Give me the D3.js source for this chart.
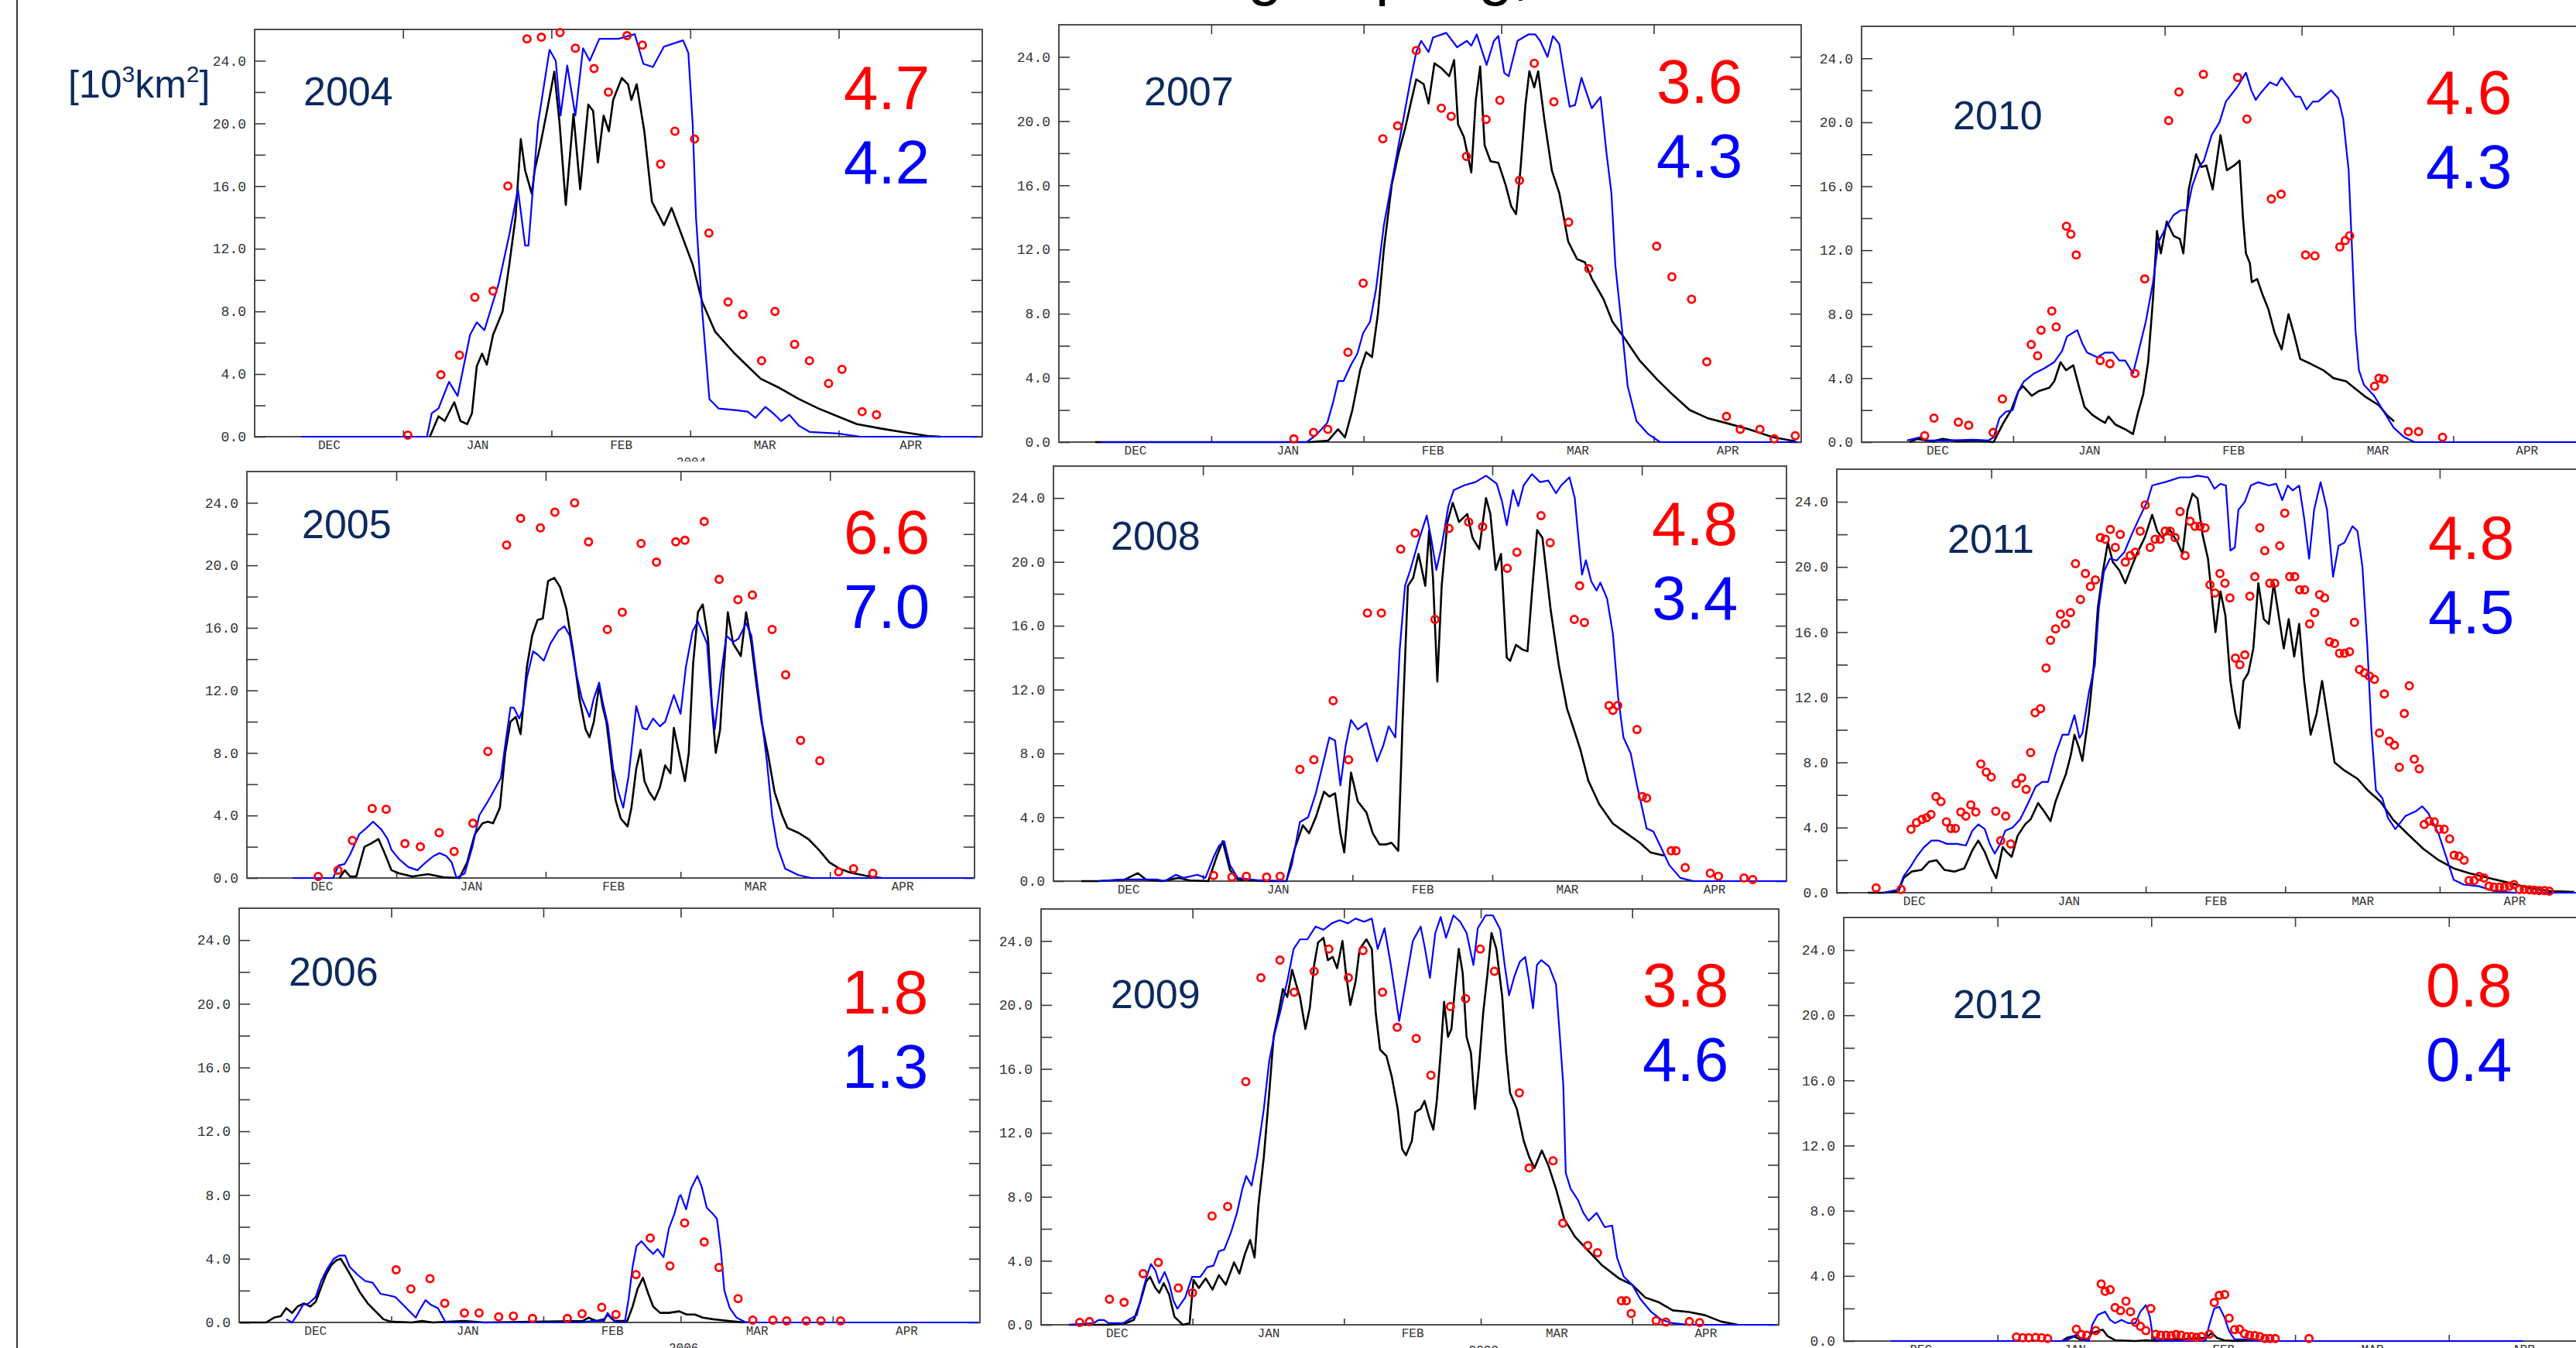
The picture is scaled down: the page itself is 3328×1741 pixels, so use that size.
<!DOCTYPE html>
<html>
<head>
<meta charset="utf-8">
<script src="https://cdn.jsdelivr.net/npm/d3@7"></script>
<style>
  body { margin: 0; background: #fff; }
  svg { display: block; }
</style>
</head>
<body>
<div id="chart"></div>
<script>
var svgWidth = 3328;
var svgHeight = 1741;

// panels in reading order (row by row)
var years = [2004, 2007, 2010, 2005, 2008, 2011, 2006, 2009, 2012];
var redScores = [4.7, 3.6, 4.6, 6.6, 4.8, 4.8, 1.8, 3.8, 0.8];
var blueScores = [4.2, 4.3, 4.3, 7.0, 3.4, 4.5, 1.3, 4.6, 0.4];

var monthLabels = ["DEC", "JAN", "FEB", "MAR", "APR"];
var yTickValues = [0, 2, 4, 6, 8, 10, 12, 14, 16, 18, 20, 22, 24];
var yLabelValues = [0, 4, 8, 12, 16, 20, 24];
var yMax = 26;

// series: [day since 1 Dec, value]
var black2004 = [[36.6,0],[38.4,1.3],[39.7,1.0],[41.7,2.2],[43,1.0],[44.4,0.8],[45.4,1.5],[46.4,4.5],[47.5,5.3],[48.5,4.6],[49.8,6.5],[51.8,8],[53.2,11],[54.5,14],[55.6,19],[56.5,17],[57.9,15.5],[58.5,17],[59.6,18.5],[61.2,21],[62.6,23.3],[63.7,20],[65,14.8],[66.6,20.6],[68,15.8],[69.7,21.2],[70.7,20.8],[71.7,17.5],[72.9,20.5],[74,19.5],[74.9,21.5],[76.7,22.9],[78,22.5],[78.7,21.5],[79.8,22.5],[81.4,19.5],[83,15],[85.5,13.5],[87.1,14.6],[89.3,12.8],[91.5,11],[93.5,8.6],[96.2,6.7],[100.3,5.3],[103,4.5],[105.7,3.7],[109.7,3.1],[113.7,2.4],[117.8,1.8],[121.8,1.3],[125.8,0.8],[131.2,0.5],[135.3,0.3],[140.6,0.05],[143.3,0]];
var blue2004 = [[9.7,0],[36,0],[37,1.5],[38.4,1.8],[40.6,3.5],[42.4,2.6],[45,6.5],[46.4,7.3],[48,6.8],[51,9.8],[53.2,12.9],[55,15.8],[56.5,12.2],[57.2,12.2],[59.2,20],[61.6,24.7],[62.9,24],[63.9,20.5],[65.3,23.7],[67,20.5],[68.6,24.8],[70,24],[72,25.4],[76,25.4],[79.4,25.7],[81.2,23.8],[83.2,23.6],[85.5,24.9],[89.5,25.3],[90.6,24.5],[91.5,20],[92.2,14],[93.5,8],[95,2.4],[96.9,1.8],[100.3,1.7],[103,1.6],[104.6,1.2],[106.7,1.9],[108.3,1.5],[110,1.0],[111.7,1.4],[113.7,0.7],[116,0.3],[121.8,0.2],[126.5,0],[151,0]];
var red2004 = [[32,0.1],[38.9,3.95],[42.8,5.2],[46,8.9],[49.8,9.3],[52.9,16],[56.9,25.4],[59.9,25.5],[63.8,25.8],[67,24.8],[70.9,23.5],[73.9,22],[77.8,25.6],[81,25],[84.8,17.4],[87.8,19.5],[91.9,19],[94.9,13],[98.9,8.6],[102,7.8],[105.9,4.85],[108.7,8],[112.8,5.9],[115.9,4.85],[119.9,3.4],[122.7,4.3],[126.9,1.6],[129.9,1.4]];

var black2007 = [[7.4,0],[51,0],[54.8,0.1],[56.8,0.8],[58.2,0.3],[59.7,2],[61.3,4.5],[62.5,5.6],[63.7,5.3],[64.9,8],[66.1,12],[67.7,16],[69.1,18],[70.4,19.5],[71.5,21],[72.7,22.6],[74.2,22.3],[75.2,21.1],[76.4,23.6],[77.8,23.3],[79.4,22.8],[80.4,23.8],[81.2,19.8],[82.4,19],[83.9,16.8],[84.8,21.3],[85.7,23.4],[86.6,18.5],[87.8,17.5],[89.4,17.4],[90.9,16],[92,14.7],[93,14.2],[93.9,17],[94.9,21],[95.7,23.1],[96.7,22.1],[97.5,23.1],[98.8,20],[100.3,16.9],[101.8,15.5],[103.6,12.5],[105.4,11.4],[107,11.2],[108.4,10.2],[110.8,8.9],[112.6,7.5],[115,6.5],[118.1,5.1],[121.7,3.9],[124.7,3],[128.3,2],[131.9,1.5],[135.6,1.2],[140.4,0.8],[145.3,0.3],[149.9,0.05]];
var blue2007 = [[8.6,0],[50.4,0],[52.2,0.4],[54.6,1.2],[55.8,2.5],[56.8,3.8],[57.9,3.8],[59.4,4.8],[60.7,5.5],[61.9,6.8],[63.3,7.5],[64.5,9.5],[66.1,13.5],[67.9,16.5],[69.7,19.5],[71.5,22.5],[72.7,24.3],[73.7,25],[75.2,24.3],[76.1,25.2],[78.8,25.5],[81,24.6],[83,25],[83.9,24.7],[85,25.4],[87,23.5],[88.5,25],[89.4,25.3],[90.6,23],[91.5,22.8],[93.3,25],[95.5,25.4],[96.9,25.4],[97.9,25],[99.4,24],[100.5,25.3],[101.8,24.8],[103,22.5],[103.9,20.9],[105,21],[106.3,22.7],[108.4,20.8],[110.2,21.5],[111.4,18],[112.4,15.5],[113.2,11],[114.4,7.5],[115.7,3.5],[117.5,1.3],[119.9,0.5],[122.3,0],[150.2,0]];
var red2007 = [[47.8,0.2],[51.8,0.6],[54.7,0.8],[58.8,5.6],[61.9,9.9],[65.9,18.9],[68.9,19.7],[72.7,24.4],[77.8,20.8],[79.8,20.3],[82.9,17.8],[86.9,20.1],[89.7,21.3],[93.7,16.3],[96.7,23.6],[100.7,21.2],[103.7,13.7],[107.8,10.8],[121.6,12.2],[124.7,10.3],[128.7,8.9],[131.8,5],[135.8,1.6],[138.6,0.8],[142.6,0.8],[145.5,0.2],[149.8,0.4]];

var black2010 = [[9.8,0],[11.4,0.2],[14.5,0.05],[16.6,0.2],[19.7,0.05],[23.8,0.1],[27,0],[29,1.2],[30.6,2],[32.1,3.2],[33,3.5],[34.8,2.9],[36.3,3.2],[38.4,3.4],[39.4,3.8],[40.7,5],[41.8,4.5],[43.3,4.8],[44.6,3.3],[45.6,2.2],[47.2,1.7],[48.7,1.4],[49.8,1.2],[50.5,1.6],[51.9,1.1],[53.9,0.8],[55.5,0.5],[56.5,1.8],[57.6,3],[58.6,5],[59.6,9],[60.4,13.2],[61.2,11.8],[62.4,13.8],[63.8,12.9],[65.1,12.7],[65.8,11.8],[66.9,15.8],[68.4,18],[69.5,17.2],[70.5,17.3],[71.8,15.8],[72.6,17.5],[73.4,19.2],[74.7,17],[76.2,17.3],[77.3,17.6],[78,14],[78.6,11.8],[79.4,11.2],[79.8,10],[80.9,10.2],[81.9,9.3],[83.2,8.3],[84.5,6.8],[85.9,5.8],[87.3,8],[88.4,6.8],[89.7,5.2],[91.8,4.9],[94.4,4.5],[96.5,4],[99.1,3.8],[101.1,3.3],[103.2,2.8],[105.8,2.3],[107.4,1.7],[108.9,1.3]];
var blue2010 = [[9.3,0.1],[11.9,0.3],[13.5,0.1],[17.6,0.1],[22.8,0.15],[25.9,0.1],[27,0.3],[28.2,1.5],[29.5,1.9],[30.9,2],[32.1,3.2],[33.2,3.8],[35.3,4.3],[37.3,4.6],[39.4,5],[41,5.7],[42,6.6],[44.1,7],[45.1,6.2],[46.1,5.6],[48.2,5.3],[49.8,5.6],[51.4,5.6],[52.7,5.1],[53.9,5.1],[55.5,4.3],[56.5,5.5],[58.1,7.5],[59.6,10],[60.7,12.5],[62.2,13.4],[63.8,14.2],[65.3,14.5],[66.6,14.5],[67.6,16],[69,17.2],[70,17.6],[71.6,19.2],[73.2,20],[74.5,21.3],[76.8,22.2],[78.6,23.1],[79.7,22],[80.6,21.4],[81.8,21.9],[83.5,22.5],[84.9,22.3],[85.9,22.8],[87.1,22.3],[88.7,21.6],[89.7,21.6],[91,20.8],[92.3,21.3],[93.4,21.3],[96,22],[97.5,21.5],[98.5,20.2],[99.6,17],[100.3,12],[101,7],[101.7,4.5],[102.7,3.6],[104.8,2.9],[106.8,1.9],[108.8,0.9],[111,0.3],[113.1,0],[151,0]];
var red2010 = [[12.9,0.4],[14.8,1.5],[19.8,1.25],[21.9,1.05],[26.9,0.6],[28.8,2.7],[34.7,6.1],[36,5.4],[36.7,7],[38.9,8.2],[39.8,7.2],[41.9,13.5],[42.8,13],[43.9,11.7],[48.8,5.1],[50.8,4.9],[55.9,4.3],[57.9,10.2],[62.8,20.1],[64.9,21.9],[69.9,23],[76.9,22.8],[78.8,20.2],[83.8,15.2],[85.8,15.5],[90.8,11.7],[92.7,11.65],[97.8,12.2],[98.9,12.6],[99.8,12.9],[104.9,3.5],[105.8,4],[106.8,3.95],[111.8,0.65],[113.9,0.65],[118.8,0.3]];

var black2005 = [[19.2,0],[20.3,0.5],[21.4,0.1],[22.7,0.1],[24.4,2],[25.7,2.2],[27.3,2.5],[28.7,1.5],[30,0.5],[31.6,0.3],[34.3,0.1],[37.6,0.25],[40.8,0.05],[44.1,0],[45.7,1],[47.3,2.8],[48.9,3.5],[50,3.6],[51.1,3.5],[52.5,4.5],[53.6,8],[54.7,10],[55.8,10.3],[56.8,9.2],[58.1,13.5],[59.2,15.5],[60.3,16.5],[61.4,16.6],[62.5,19],[63.8,19.2],[65,18.6],[66.3,17.2],[67.7,14.5],[69,11.5],[70.3,9.5],[71.1,9],[72,10],[73.1,12.3],[73.8,11],[74.6,10],[75.4,8],[76.5,5],[77.6,3.8],[79,3.3],[79.8,4.5],[80.8,7],[81.7,8.2],[82.5,6.2],[83.5,5.5],[84.6,5],[85.7,5.8],[86.8,7.2],[87.9,6.7],[88.6,9.6],[90,7.5],[90.9,6.2],[91.7,8],[92.6,13.7],[93.6,17],[94.6,17.5],[95.7,15.3],[96.5,11],[97.3,8],[98.2,9.5],[98.9,13],[99.8,17],[100.9,15],[102.5,14.2],[103.6,17],[104.7,15],[105.7,12.5],[106.8,10],[108.1,8],[109.5,5.5],[111.1,4],[112.2,3.2],[114.4,2.9],[116.5,2.5],[118.7,1.8],[120.9,1],[123,0.6],[125.2,0.35],[128.4,0.15],[131.7,0]];
var blue2005 = [[9.5,0],[17.9,0],[19,0.8],[20.3,0.9],[21.4,1.5],[23.3,2.8],[24.8,3.2],[26.2,3.6],[27.9,3.1],[29.2,2.5],[30,1.8],[31.6,1.2],[33.5,0.7],[35.4,0.5],[37.1,1],[38.7,1.4],[40,1.6],[41.4,1.4],[42.5,1],[43.5,0],[45.2,0.3],[46.8,2],[48.2,4],[50,4.9],[51.1,5.5],[52.7,6.4],[53.6,8.5],[54.7,10.9],[55.4,10.9],[56.5,10.2],[57.3,10.8],[58.1,12.8],[59.4,14.5],[60.3,14.3],[61.6,13.9],[63,15],[64.6,15.8],[65.9,16.1],[67,15.5],[68.4,13],[69.5,11.5],[71.1,10.3],[72,11.5],[73.1,12.5],[73.8,11.3],[74.9,9.8],[76,7],[77.1,5.5],[78.1,4.5],[79.2,6.5],[80.8,11],[82.1,9.6],[83,9.5],[84.3,10.2],[85.7,9.7],[86.8,10],[88.6,11.7],[90,10.5],[91.1,13.5],[92.5,15.8],[93.6,16.4],[95.5,15],[96.2,12],[97.1,9.5],[98.4,13],[99.5,15.5],[100.9,15.1],[102,15.3],[103.6,16.3],[104.7,15.5],[106.3,11.5],[107.9,7.5],[109,4],[110.1,2],[111.7,0.6],[114.4,0.2],[117.1,0],[150.6,0]];
var red2005 = [[14.8,0.1],[18.9,0.5],[21.9,2.4],[26,4.45],[28.9,4.4],[32.8,2.2],[36,2],[39.9,2.9],[43,1.7],[46.9,3.5],[50,8.1],[53.9,21.3],[56.8,23],[60.9,22.4],[63.9,23.4],[68,24],[70.9,21.5],[74.8,15.9],[77.9,17],[81.8,21.4],[85,20.2],[89,21.5],[90.9,21.6],[94.9,22.8],[98,19.1],[101.9,17.8],[104.9,18.1],[109,15.9],[111.8,13],[114.9,8.8],[118.9,7.5],[122.8,0.4],[125.9,0.6],[129.9,0.3]];

var black2008 = [[5.8,0],[9.2,0],[14.8,0.1],[17.5,0.5],[19.2,0.1],[22.6,0],[25.9,0.2],[28.2,0.05],[32.1,0],[33.8,1.5],[35.1,2.5],[36.6,0.7],[38.2,0.1],[43.8,0],[48.3,0],[50,2],[51.7,3.5],[53,3],[54.4,4],[56.1,5.6],[57.2,5.3],[58.4,5.5],[59.5,3],[60.3,1.8],[61.7,6.8],[63.1,5],[64.9,4.3],[66.2,3],[67.6,2.3],[69,2.3],[70.1,2.4],[71.5,1.9],[72.4,10],[73.5,18.5],[74.6,19],[75.7,20.5],[77.1,18.5],[77.9,22],[78.7,19],[79.6,12.5],[80.5,18.5],[81.7,22.5],[82.8,23.7],[84.1,22.5],[85.8,23],[86.9,21.5],[88.3,20.8],[89.7,24],[90.6,23],[91.7,19.5],[92.8,20.5],[94,14],[94.7,13.8],[95.9,14.8],[97.3,14.5],[98.3,14.4],[99.2,18],[100.3,22],[101.4,21.5],[103.1,17],[104.8,13.5],[106.5,10.8],[107.6,9.8],[109.3,8.2],[110.9,6.3],[113.2,4.8],[116,3.6],[118.8,3],[121.6,2.4],[123.8,1.8],[126.6,1.6]];
var blue2008 = [[9.2,0],[14.8,0.1],[21.4,0.1],[23.1,0],[25.4,0.4],[27,0.2],[29.8,0.4],[31.5,0.2],[33.2,1.5],[34.3,2.2],[35.4,2.5],[36.6,1],[38.2,0.2],[42.7,0.05],[48.3,0],[49.4,1],[51.1,3.7],[52.8,4],[54.4,5.5],[56.1,7.6],[57.2,9],[58.4,8.8],[59.5,6],[60.6,8.5],[61.7,10.1],[63.1,9.5],[64.9,9.9],[67.1,7.5],[68.4,8.5],[69.5,9.7],[70.9,9],[71.8,14.5],[72.9,18.5],[74,19.5],[75.7,21.3],[77.4,22.9],[78.3,21.5],[79.4,19.5],[80.5,21],[81.9,23.5],[83,24.5],[85.2,24.8],[87.5,25],[89.7,25.4],[91.9,24.9],[93,23.8],[94,22.3],[95.3,24.5],[96.4,23.5],[97.5,24.8],[99.2,25.5],[100.9,25],[102.6,25.1],[104.2,24.3],[105.3,24.8],[107,25.3],[108.1,24],[108.7,22],[109.6,19.2],[110.4,20.1],[111.5,18.8],[112.6,18.2],[113.4,18.7],[114.8,17.7],[116,15.5],[117.1,11.5],[118.2,9],[119.7,8],[121,6],[121.9,4.8],[123,3.3],[124.4,3.1],[126,2.1],[127.7,1],[130,0.2],[132.7,0],[152,0]];
var red2008 = [[33.2,0.35],[37,0.26],[40,0.3],[44.2,0.26],[47,0.3],[51.1,7],[54,7.6],[58,11.3],[61.2,7.6],[65.1,16.8],[68,16.8],[72,20.8],[75,21.8],[79.1,16.4],[82,22.1],[86.1,22.5],[89,22.2],[94.1,19.6],[96.1,20.6],[101.1,22.9],[103,21.2],[108,16.4],[109.1,18.5],[110.1,16.2],[115.2,11],[116,10.7],[117,11],[121,9.5],[122.1,5.3],[123,5.2],[128.1,1.9],[129.1,1.9],[131,0.85],[136.2,0.5],[137.9,0.3],[143.2,0.2],[145,0.1]];

var black2011 = [[6.3,0],[9.4,0],[12.4,0.1],[13.4,0.9],[15,1.3],[17,1.4],[18.5,1.9],[20,2],[21.6,1.4],[23.6,1.3],[25.6,1.5],[27.2,2.6],[28.4,3.2],[29.7,2.5],[31,1.5],[32,0.9],[33.3,2.8],[34.1,2.5],[35.1,2.2],[36.3,3.5],[37.8,4.2],[38.9,4.5],[40.4,5.5],[41.6,5],[42.9,4.4],[43.9,5.6],[45,6.5],[46,7.3],[47,8.5],[47.7,9.7],[48.5,9],[49.3,8.1],[50.6,11],[51.6,14],[52.4,17.5],[53.4,19.7],[54.4,21.5],[55.4,20.3],[56.7,19.8],[57.9,19],[58.9,19.8],[60.2,20.8],[61.8,21.8],[63.3,23.2],[64.3,22.2],[65.3,21.8],[66.8,22.3],[68.4,21.5],[69.4,20.8],[70.4,23.5],[71.4,24.5],[72.4,24.2],[73.4,22],[74.5,20.5],[75.5,17.5],[76,16],[77,18.5],[78,17],[79,13],[80,11],[80.8,10.1],[81.6,13],[82.6,13.5],[83.6,15],[84.6,19],[85.7,16.8],[86.7,16.5],[87.7,19],[88.7,17],[89.7,15],[90.7,16.8],[91.8,14.5],[92.8,16.5],[93.8,13],[95.1,9.7],[96.3,11],[97.4,13],[98.4,11],[99.9,8],[101.9,7.5],[104.5,7],[106.5,6.3],[109.1,5.6],[111.6,4.5],[114.6,3.6],[117.7,2.7],[120.8,2],[123.8,1.5],[126.9,1.2],[130.9,0.9],[135,0.6],[139,0.3],[143.1,0.1],[148,0.05]];
var blue2011 = [[9.4,0],[12.4,0.2],[13.4,1],[14.8,1.6],[16,2.2],[17.5,2.8],[19,3.2],[20.5,3.2],[22.1,3],[24.1,3],[25.9,2.9],[27.2,3.8],[28.4,4.2],[29.7,3.9],[30.7,3],[31.7,2.4],[32.8,3],[33.8,3.8],[35.3,4],[36.8,4.5],[38.4,5.5],[39.9,6.5],[41.2,6.8],[42.4,6.8],[43.9,8.5],[45.3,9.7],[46.5,9.7],[47.7,10.9],[48.7,9.5],[49.3,9.8],[50.6,12.3],[51.8,14],[52.6,17.5],[53.6,19.7],[54.8,20.5],[56.2,20.4],[57.7,20.9],[59.2,22],[60.7,23],[62.3,24],[63.3,25],[65.8,25.2],[68.9,25.5],[70.9,25.5],[72.4,25.6],[74.5,25.5],[75.8,24.8],[77,25.1],[78.1,25],[79,21],[79.9,21.2],[80.6,23.5],[81.9,24],[83.1,25],[84.6,25.2],[86.7,25],[88.2,25.1],[89.4,24.1],[90.5,25],[91.5,24.7],[92.8,25],[93.8,23],[94.8,20.5],[95.8,23.5],[97.1,25.2],[98.4,23.5],[99.6,19.4],[100.7,21.3],[101.9,21.5],[103.5,22.5],[104.5,22.2],[105.5,20],[106.5,15],[107.3,10],[108.2,6.3],[109.5,5.8],[110.6,4.6],[112.1,3.9],[114.1,4.7],[116.2,5],[117.5,5.3],[118.7,4.9],[120.8,3.6],[122.3,2.2],[123.8,0.8],[125.8,0.5],[128.9,0.4],[131.9,0.1],[136,0],[151,0]];
var red2011 = [[7.9,0.3],[12.9,0.2],[14.9,3.9],[16,4.3],[17.1,4.5],[18,4.6],[18.9,4.8],[19.9,5.9],[20.9,5.6],[22,4.35],[22.9,3.95],[23.8,3.95],[24.9,4.95],[25.9,4.7],[26.9,5.4],[27.9,4.95],[28.9,7.9],[30,7.4],[31,7.1],[31.9,5],[32.9,3.2],[33.9,4.7],[34.9,3],[36,6.7],[37.1,7.05],[38,6.35],[38.9,8.6],[39.8,11.05],[40.9,11.3],[42,13.8],[42.9,15.5],[43.9,16.2],[44.9,17.1],[45.9,16.5],[46.9,17.2],[47.9,20.2],[48.9,18],[49.9,19.6],[50.9,18.8],[51.9,19.2],[52.9,21.8],[53.9,21.7],[54.9,22.3],[55.9,21.2],[56.9,22],[57.9,20.3],[58.9,20.7],[59.9,20.9],[60.9,22.2],[61.9,23.8],[62.9,21.2],[63.9,21.7],[64.9,21.7],[65.9,22.2],[66.9,22.2],[67.9,21.8],[68.9,23.4],[69.9,20.7],[70.9,22.8],[71.9,22.5],[72.9,22.5],[73.9,22.4],[74.9,18.9],[75.9,18.4],[76.9,19.6],[77.9,19],[78.9,18.1],[80,14.4],[80.9,14],[81.9,14.6],[82.9,18.2],[83.9,19.4],[84.9,22.4],[85.9,21],[86.9,19],[87.9,19],[88.9,21.3],[89.9,23.3],[90.9,19.4],[91.9,19.4],[92.9,18.6],[93.9,18.6],[94.9,16.5],[95.9,17.2],[96.9,18.3],[97.9,18.1],[98.9,15.4],[99.9,15.3],[100.9,14.7],[101.9,14.7],[102.9,14.8],[103.9,16.6],[104.9,13.7],[105.9,13.5],[106.9,13.3],[107.9,13.1],[108.9,9.8],[109.9,12.2],[110.9,9.3],[111.9,9.05],[112.9,7.7],[113.9,11],[114.9,12.7],[115.9,8.2],[116.9,7.6],[117.9,4.2],[118.9,4.4],[119.9,4.35],[120.9,3.9],[121.9,3.9],[123,3.3],[123.9,2.3],[124.9,2.25],[125.9,2],[126.9,0.75],[127.9,0.75],[128.9,1],[129.9,0.9],[130.9,0.4],[131.9,0.35],[133,0.35],[134,0.35],[135,0.4],[135.9,0.5],[137,0.2],[138,0.2],[139,0.18],[140,0.16],[141,0.13],[142,0.13],[143,0.1]];

var black2006 = [[0.2,0],[5.5,0],[7.1,0.3],[8.5,0.4],[9.6,0.9],[10.8,0.6],[11.9,1],[13.2,1.2],[14.5,1],[15.6,1.3],[16.7,2.2],[17.7,3],[18.8,3.6],[19.8,3.9],[20.7,4],[21.7,3.5],[23,2.8],[24.6,1.9],[26.2,1.2],[27.8,0.7],[29.4,0.2],[30.9,0.05],[35.2,0],[37.3,0.1],[39.4,0],[45.8,0.1],[50,0],[70.1,0.1],[71.2,0.3],[72.8,0.1],[74.4,0.2],[75.1,0.5],[76.5,0.1],[79.1,0.1],[80.2,1],[81.2,2.1],[82.3,2.8],[83.4,1.8],[84.4,1],[85.8,0.6],[87.6,0.6],[89.7,0.7],[91.2,0.5],[92.9,0.5],[94.5,0.3],[96.6,0.2],[99.8,0.1],[103,0]];
var blue2006 = [[9.6,0.2],[10.8,0],[11.9,0.5],[13,1.1],[14.2,1.2],[15.6,1.6],[16.7,2.6],[18,3.4],[19.3,4],[20.4,4.2],[21.6,4.2],[22.5,3.5],[24.1,3],[25.7,2.6],[27.2,2.5],[28.8,1.8],[30.4,1.7],[31.8,1.6],[33.1,1.2],[34.7,0.7],[36,0.3],[36.8,0.8],[38,1.4],[39.1,1.1],[40.5,0.9],[42.1,0],[69,0],[72.3,0.1],[74.4,0.1],[75.1,0.6],[76,0.2],[77,0],[78.6,0],[79.4,1.5],[80.2,3.5],[81,4.8],[82,5.1],[83.4,4.6],[84.4,4.3],[85.3,4.6],[86.5,4.1],[87.6,5.9],[88.7,6.8],[89.7,7.9],[90,8],[91.1,7.1],[92.1,8.4],[93.4,9.2],[94.3,8.5],[95.3,7.2],[96.6,6.8],[97.4,6.5],[98.2,4.5],[98.9,2],[100,0.9],[101.4,0.3],[103,0.05],[104,0],[150.6,0]];
var red2006 = [[32,3.3],[35,2.1],[38.9,2.75],[41.9,1.2],[45.9,0.6],[48.9,0.6],[52.9,0.35],[55.9,0.4],[59.8,0.25],[66.9,0.25],[69.9,0.55],[73.9,0.95],[76.8,0.5],[80.9,3],[83.8,5.3],[87.8,3.55],[90.8,6.25],[94.8,5.05],[97.8,3.45],[101.7,1.5],[104.7,0.15],[108.8,0.15],[111.6,0.1],[115.6,0.1],[118.6,0.1],[122.6,0.1]];

var black2009 = [[5.7,0],[10.7,0],[14,0],[17.3,0.1],[19,0.3],[20.4,1.5],[21.5,2.7],[22.3,3],[23.4,2.3],[24.2,2],[25.1,2.6],[26.2,1.9],[27.3,0.5],[29,0],[30.4,0.1],[31.2,2.8],[32.3,2.3],[33.7,2.9],[35.1,2.2],[36.4,3.1],[37.8,2.5],[39.5,3.9],[40.6,3.2],[41.7,4.4],[42.8,5.3],[43.7,4.2],[44.5,7.5],[45.6,10.5],[46.7,14.5],[47.6,18],[48.6,19.5],[49.5,21],[50.4,20.5],[51.4,22.2],[52.2,21.3],[53,20.5],[54.1,18.5],[55,19.8],[55.9,22.5],[56.7,23.9],[57.8,24.2],[58.7,22.8],[59.7,23],[60.6,22.3],[61.7,24],[62.4,22],[63.3,20],[64.4,21.5],[65.2,23.5],[66.6,24.1],[67.7,23.5],[68.5,19.5],[69.4,17.2],[70.7,16.8],[71.8,15.5],[73,13.5],[73.9,11],[74.7,10.6],[75.9,11.5],[76.6,13.3],[77.7,13.5],[78.5,14],[79.4,13],[80.3,12.2],[81,14],[81.8,17],[82.5,20.2],[83.3,18],[84,18.5],[84.7,21],[85.5,23.5],[86.3,22],[87.1,18],[88,17],[88.8,13.5],[89.6,16],[90.5,19.5],[91.4,22],[92.2,24.5],[93.2,23.5],[94.4,20.5],[95.2,17],[96,14.5],[97.4,13.5],[98.8,11.5],[99.9,10.5],[101,9.8],[102.5,10.9],[103.8,10],[105.4,8.5],[107.1,6.6],[109.3,5.5],[112.1,4.6],[114.9,3.7],[118.3,2.9],[121,2.5],[123.7,1.7],[126.5,1.4],[129.3,0.9],[132.6,0.8],[135.9,0.6],[139.2,0.2],[142.6,0]];
var blue2009 = [[5.7,0],[10.7,0.1],[11.8,0.3],[12.9,0.3],[13.8,0.1],[16.8,0.1],[18.4,0.4],[19.6,0.6],[20.7,2],[21.8,3.2],[22.5,3.8],[23.4,3.4],[24.2,2.6],[25.3,3.3],[26.2,2.6],[27.1,1.5],[27.9,1],[29.5,1.7],[30.9,3],[32.6,3],[34,3.6],[35.3,3.7],[36.4,4.6],[37.5,4.7],[38.9,5.8],[40.1,7],[41.2,8.5],[42,9.3],[43.1,8.7],[44.2,10.5],[45.6,13.5],[46.7,16.5],[47.8,18.2],[48.9,19.5],[50.4,21.5],[51.7,23.5],[53,24.1],[54.5,24.1],[56.2,24.9],[57.8,24.7],[59.5,25.1],[61.1,25.3],[62.8,25.1],[64.4,25.4],[66.1,25.2],[67.7,25.4],[68.9,23.5],[70.3,24.8],[71.6,22.5],[73.3,19],[74.7,21.5],[76.1,24],[77.7,24.9],[78.6,23.5],[79.6,21.7],[80.7,24.5],[81.8,25.5],[82.9,24.2],[84.4,25.6],[85.8,25.2],[87.1,24.5],[88.5,22.5],[89.4,24.8],[91,25.6],[92.5,25.6],[94,24.7],[94.9,22.5],[95.8,20.6],[96.9,21.8],[98,22.7],[99.1,23],[99.9,21.5],[100.7,19.8],[101.5,22.5],[102.4,22.8],[104,22.4],[105.4,21.3],[106.2,18],[106.9,15],[107.4,9.5],[108.4,8.5],[109.9,7.8],[111,7],[112.1,6.5],[113.7,7],[115.4,6.1],[116.9,6.2],[117.9,4.2],[119.3,3],[121,2.5],[122.7,1.6],[124.9,0.8],[127.1,0.3],[129.3,0.1],[132.6,0],[150.3,0]];
var red2009 = [[7.9,0.15],[9.9,0.2],[14,1.6],[17,1.4],[20.9,3.2],[24,3.9],[28.1,2.3],[31,2],[35,6.8],[38.2,7.4],[41.9,15.2],[45,21.7],[48.9,22.8],[51.8,20.8],[55.9,22.1],[58.9,23.5],[62.9,21.7],[65.9,23.4],[69.9,20.8],[72.9,18.6],[76.8,17.9],[79.8,15.6],[83.8,19.9],[86.9,20.4],[89.9,23.5],[92.8,22.1],[97.9,14.5],[99.9,9.8],[104.8,10.25],[106.8,6.35],[111.9,4.95],[113.9,4.5],[118.8,1.5],[119.8,1.5],[120.8,0.7],[125.9,0.26],[127.9,0.17],[132.7,0.2],[134.8,0.13]];

var black2012 = [[44,0],[45,0.2],[46.3,0.3],[47.6,0.1],[49.1,0.1],[50.1,0.5],[51.2,0.6],[52.2,0.7],[53.2,0.3],[54.7,0.05],[58.8,0],[60.9,0.05],[62.9,0],[73.1,0.2],[74.2,0.5],[75.2,0.2],[76.7,0.05],[79.3,0],[82.4,0.05],[84,0]];
var blue2012 = [[9.5,0],[44.5,0],[46,0.2],[46.9,0.4],[48.1,0.1],[49.4,0],[50.1,1],[51.2,1.6],[52.7,1.8],[53.7,1.3],[54.7,1.1],[56,1.3],[57.3,1.1],[58.8,1.1],[59.8,1.8],[60.9,2.2],[61.7,1.5],[62.4,0.1],[65,0],[72.9,0],[73.7,1],[74.7,2],[75.7,2.1],[76.7,1.5],[77.7,0.6],[78.8,0.1],[81.3,0.1],[83.4,0],[137,0]];
var red2012 = [[34.8,0.25],[36.1,0.2],[37.3,0.2],[38.7,0.22],[39.9,0.2],[41.1,0.15],[46.9,0.73],[47.9,0.4],[49,0.36],[50.8,0.64],[51.9,3.5],[52.7,3.05],[53.7,3.15],[54.7,2.05],[55.8,1.87],[56.9,2.45],[57.8,1.8],[58.8,1.15],[59.8,0.9],[60.9,0.64],[61.9,2],[62.9,0.42],[63.9,0.36],[65,0.36],[66,0.33],[67,0.4],[68,0.36],[69.1,0.27],[70.1,0.27],[71.1,0.22],[72.1,0.27],[73.7,0.42],[74.7,2.36],[75.7,2.8],[76.8,2.85],[77.7,1.4],[78.8,0.7],[79.8,0.73],[80.8,0.45],[81.8,0.36],[82.9,0.33],[83.9,0.27],[84.9,0.15],[85.9,0.15],[87,0.15],[93.8,0.15]];

var blackSeries = [black2004, black2007, black2010, black2005, black2008, black2011, black2006, black2009, black2012];
var blueSeries = [blue2004, blue2007, blue2010, blue2005, blue2008, blue2011, blue2006, blue2009, blue2012];
var redSeries = [red2004, red2007, red2010, red2005, red2008, red2011, red2006, red2009, red2012];

// layout of the pasted panels (pixel boxes of each plot frame)
var panelBoxes = [
  {x0: 329, x1: 1269, y0: 38, y1: 564},
  {x0: 1368, x1: 2327, y0: 32, y1: 571},
  {x0: 2405, x1: 3359, y0: 34, y1: 571},
  {x0: 319, x1: 1259, y0: 609, y1: 1134},
  {x0: 1361, x1: 2308, y0: 602, y1: 1138},
  {x0: 2373, x1: 3345, y0: 606, y1: 1153},
  {x0: 309, x1: 1266, y0: 1173, y1: 1708},
  {x0: 1345, x1: 2298, y0: 1174, y1: 1711},
  {x0: 2382, x1: 3356, y0: 1185, y1: 1732}
];
var yearLabelPos = [[392, 136], [1478, 136], [2523, 167], [390, 695], [1435, 710], [2516, 714], [373, 1273], [1435, 1302], [2523, 1315]];
var scorePos = [[1090, 141], [2140, 133], [3134, 147], [1090, 715], [2134, 704], [3137, 722], [1088, 1309], [2122, 1300], [3134, 1300]];

var navy = "#0b2a5e";
var axisColor = "#3a3a3a";
var tickFont = "'Liberation Mono', 'DejaVu Sans Mono', monospace";
var bigFont = "'Liberation Sans', Arial, sans-serif";

var svg = d3.select("#chart")
  .append("svg")
  .attr("width", svgWidth)
  .attr("height", svgHeight);

svg.append("rect")
  .attr("width", svgWidth)
  .attr("height", svgHeight)
  .attr("fill", "#fff");

// title (mostly cropped off the top of the slide)
svg.append("text")
  .attr("x", 1243)
  .attr("y", -9)
  .attr("font-family", bigFont)
  .attr("font-size", 80)
  .attr("fill", "#000")
  .text("Ice coverage Spring, 2004-2012");

// slide edge line on the left
svg.append("line")
  .attr("x1", 22).attr("x2", 22)
  .attr("y1", 0).attr("y2", svgHeight)
  .attr("stroke", axisColor)
  .attr("stroke-width", 2);

// unit label
var unitLabel = svg.append("text")
  .attr("x", 88)
  .attr("y", 126)
  .attr("font-family", bigFont)
  .attr("font-size", 50)
  .attr("fill", navy);
unitLabel.append("tspan").text("[10");
unitLabel.append("tspan").attr("font-size", 30).attr("dy", -20).text("3");
unitLabel.append("tspan").attr("dy", 20).text("km");
unitLabel.append("tspan").attr("font-size", 30).attr("dy", -20).text("2");
unitLabel.append("tspan").attr("dy", 20).text("]");

function drawPanel(i) {
  var box = panelBoxes[i];
  var year = years[i];
  var feb = (year % 4 === 0) ? 29 : 28;
  var monthStarts = [31, 62, 62 + feb, 93 + feb];
  var monthMids = [15.5, 46.5, 62 + feb / 2, 77.5 + feb, 108 + feb];
  var seasonEnd = 123 + feb;

  var x = d3.scaleLinear().domain([0, seasonEnd]).range([box.x0, box.x1]);
  var y = d3.scaleLinear().domain([0, yMax]).range([box.y1, box.y0]);

  var g = svg.append("g");

  // white backing, hides most of the year caption of the panel above
  g.append("rect")
    .attr("x", box.x0 - 60)
    .attr("y", box.y0 - 13)
    .attr("width", box.x1 - box.x0 + 60)
    .attr("height", box.y1 - box.y0 + 13)
    .attr("fill", "#fff");

  // y axes, ticks inward on both sides
  var leftAxis = d3.axisLeft(y)
    .tickValues(yTickValues)
    .tickSize(-14)
    .tickPadding(11)
    .tickFormat(d => yLabelValues.indexOf(d) >= 0 ? d.toFixed(1) : "");
  var rightAxis = d3.axisRight(y)
    .tickValues(yTickValues)
    .tickSize(-14)
    .tickFormat("");

  var yl = g.append("g")
    .attr("transform", `translate(${box.x0}, 0)`)
    .call(leftAxis);
  var yr = g.append("g")
    .attr("transform", `translate(${box.x1}, 0)`)
    .call(rightAxis);

  // month ticks on top and bottom frame
  var topAxis = d3.axisTop(x).tickValues(monthStarts).tickSize(-12).tickFormat("");
  var bottomAxis = d3.axisBottom(x).tickValues(monthStarts).tickSize(-8).tickFormat("");
  var xt = g.append("g")
    .attr("transform", `translate(0, ${box.y0})`)
    .call(topAxis);
  var xb = g.append("g")
    .attr("transform", `translate(0, ${box.y1})`)
    .call(bottomAxis);

  // month names at mid-month
  var monthAxis = d3.axisBottom(x)
    .tickValues(monthMids)
    .tickSize(0)
    .tickPadding(5)
    .tickFormat((d, k) => monthLabels[k]);
  var xm = g.append("g")
    .attr("transform", `translate(0, ${box.y1})`)
    .call(monthAxis);

  [yl, yr, xt, xb, xm].forEach(function (a) {
    a.select(".domain").remove();
    a.selectAll("line").attr("stroke", axisColor).attr("stroke-width", 1.6);
    a.selectAll("text").attr("font-family", tickFont).attr("fill", "#333");
  });
  yl.selectAll("text").attr("font-size", 18);
  xm.selectAll("text").attr("font-size", 16);

  // year caption under the axis (the next panel covers most of it)
  g.append("text")
    .attr("x", box.x0 + 0.6 * (box.x1 - box.x0))
    .attr("y", box.y1 + 38)
    .attr("text-anchor", "middle")
    .attr("font-family", tickFont)
    .attr("font-size", 16)
    .attr("fill", "#333")
    .text(year);

  // frame
  g.append("rect")
    .attr("x", box.x0)
    .attr("y", box.y0)
    .attr("width", box.x1 - box.x0)
    .attr("height", box.y1 - box.y0)
    .attr("fill", "none")
    .attr("stroke", axisColor)
    .attr("stroke-width", 1.8);

  var line = d3.line()
    .x(d => x(d[0]))
    .y(d => y(d[1]));

  g.append("path")
    .datum(blackSeries[i])
    .attr("d", line)
    .attr("fill", "none")
    .attr("stroke", "#000")
    .attr("stroke-width", 2.6)
    .attr("stroke-linejoin", "round");

  g.append("path")
    .datum(blueSeries[i])
    .attr("d", line)
    .attr("fill", "none")
    .attr("stroke", "#0000ff")
    .attr("stroke-width", 2.2)
    .attr("stroke-linejoin", "round");

  g.selectAll("circle")
    .data(redSeries[i])
    .enter()
    .append("circle")
    .attr("cx", d => x(d[0]))
    .attr("cy", d => y(d[1]))
    .attr("r", 4.6)
    .attr("fill", "none")
    .attr("stroke", "#ff0000")
    .attr("stroke-width", 2.8);

  // year and the two scores
  g.append("text")
    .attr("x", yearLabelPos[i][0])
    .attr("y", yearLabelPos[i][1])
    .attr("font-family", bigFont)
    .attr("font-size", 52)
    .attr("fill", navy)
    .text(year);

  g.append("text")
    .attr("x", scorePos[i][0])
    .attr("y", scorePos[i][1])
    .attr("font-family", bigFont)
    .attr("font-size", 80)
    .attr("fill", "#ff0000")
    .text(redScores[i].toFixed(1));

  g.append("text")
    .attr("x", scorePos[i][0])
    .attr("y", scorePos[i][1] + 96)
    .attr("font-family", bigFont)
    .attr("font-size", 80)
    .attr("fill", "#0000ff")
    .text(blueScores[i].toFixed(1));
}

for (var i = 0; i < years.length; i++) {
  drawPanel(i);
}
</script>
</body>
</html>
